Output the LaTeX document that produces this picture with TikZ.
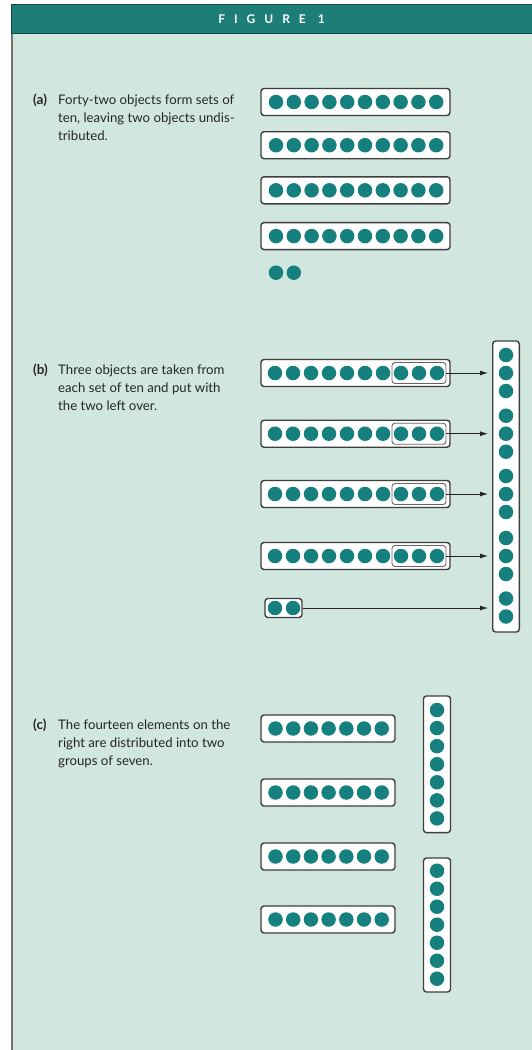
\documentclass[tikz,border=0pt]{standalone}
\usepackage{fontspec}
\setmainfont{Lato}
\newfontfamily\headfont[LetterSpace=75]{Lato}
\usepackage{tikz}
\usetikzlibrary{arrows.meta,positioning,calc}
\definecolor{panelbg}{RGB}{208,230,223}
\definecolor{headteal}{RGB}{28,126,118}
\definecolor{dotteal}{RGB}{22,128,126}
\definecolor{boxgray}{RGB}{62,62,62}

\begin{document}
\begin{tikzpicture}[x=1pt, y=-1pt,
  head/.style={rectangle, fill=headteal, draw=headteal!60!black, line width=0.8pt, minimum width=521pt, minimum height=28.5pt, inner sep=0pt, text=white, font=\headfont\bfseries\fontsize{12}{14}\selectfont},
  bead/.style={circle, fill=dotteal, inner sep=0pt, minimum size=14.5pt},
  tray/.style={rectangle, rounded corners=3pt, draw=boxgray, line width=1.4pt, fill=white, inner sep=0pt, minimum height=27pt},
  grp/.style={rectangle, rounded corners=3pt, draw=boxgray!80, line width=0.9pt, inner sep=0pt, minimum width=54pt, minimum height=21pt},
  arr/.style={-{Latex[length=8pt,width=5pt]}, line width=0.8pt, black!85, shorten >=4pt},
  tag/.style={font=\bfseries\fontsize{13.5}{18}\selectfont, text=black!85, anchor=base west, inner sep=0pt},
  txt/.style={font=\fontsize{13.2}{18}\selectfont, text=black!85, align=left, anchor=north west, inner sep=0pt}
]
  \useasboundingbox (0,0) rectangle (532,1050);
  \fill[panelbg] (12,33) rectangle (532,1050);
  \draw[black!55, line width=1.5pt] (12,33) -- (12,1050);
  \node[head] (title) at (271.5,18.75) {FIGURE 1};

  % (a) sets of ten
  \node[tag] (tagA) at (33,104) {(a)};
  \node[txt] (txtA) at (58,94.3) {Forty-two objects form sets of\\ten, leaving two objects undis-\\tributed.};
  \foreach \r/\y in {1/102,2/145.2,3/190.3,4/236.1} {
    \node[tray, minimum width=189pt] (a\r) at (355.5,\y) {};
    \foreach \k in {0,...,9}
      \node[bead] (a\r-\k) at (276+17.8*\k,\y) {};
  }
  \foreach \k in {0,1}
    \node[bead] (a5-\k) at (276+17.8*\k,272.7) {};

  % (b) three from each set
  \node[tag] (tagB) at (33,374) {(b)};
  \node[txt] (txtB) at (58,364.3) {Three objects are taken from\\each set of ten and put with\\the two left over.};
  \node[tray, minimum width=26.6pt, minimum height=291pt] (col) at (506,486.5) {};
  \foreach \r/\y in {1/373,2/433.7,3/494,4/556} {
    \node[tray, minimum width=189pt] (b\r) at (355.5,\y) {};
    \foreach \k in {0,...,9}
      \node[bead] (b\r-\k) at (275+18*\k,\y) {};
    \node[grp] (g\r) at (419,\y) {};
    \draw[arr] (g\r.east) -- (g\r.east -| col.west);
    \foreach \d in {-18,0,18}
      \node[bead] at (506,\y+\d) {};
  }
  \node[tray, minimum width=37pt, minimum height=19pt] (b5) at (283.5,608) {};
  \foreach \k in {0,1}
    \node[bead] (b5-\k) at (275+18*\k,608) {};
  \draw[arr] (b5.east) -- (b5.east -| col.west);
  \foreach \y in {598.5,616.5}
    \node[bead] at (506,\y) {};

  % (c) two groups of seven
  \node[tag] (tagC) at (33,729) {(c)};
  \node[txt] (txtC) at (58,719.3) {The fourteen elements on the\\right are distributed into two\\groups of seven.};
  \foreach \r/\y in {1/728.5,2/792.5,3/856.5,4/919.5} {
    \node[tray, minimum width=134pt] (c\r) at (328,\y) {};
    \foreach \k in {0,...,6}
      \node[bead] (c\r-\k) at (275.5+17.7*\k,\y) {};
  }
  \node[tray, minimum width=27pt, minimum height=136.7pt] (s1) at (437,764.3) {};
  \node[tray, minimum width=27pt, minimum height=134pt] (s2) at (437,925) {};
  \foreach \k in {0,...,6} {
    \node[bead] (s1-\k) at (437,710+18.07*\k) {};
    \node[bead] (s2-\k) at (437,870.7+18*\k) {};
  }
\end{tikzpicture}
\end{document}
